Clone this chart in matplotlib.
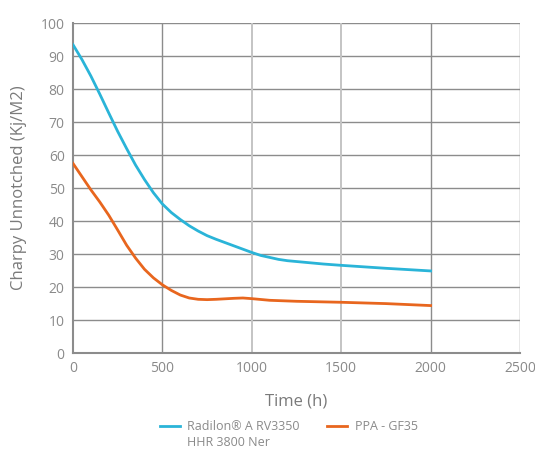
import matplotlib
matplotlib.use("Agg")
import matplotlib.pyplot as plt

# values
hours_blue = [0, 50, 100, 150, 200, 250, 300, 350, 400, 450, 500, 550, 600, 650, 700, 750,
              800, 900, 1000, 1050, 1100, 1150, 1200, 1300, 1400, 1500, 1750, 2000]
charpy_blue = [93.5, 89, 84, 78.5, 72.8, 67.2, 62, 57, 52.6, 48.6, 45.2, 42.6, 40.5, 38.6, 37, 35.6,
               34.5, 32.5, 30.5, 29.6, 29, 28.4, 28, 27.5, 27, 26.6, 25.7, 24.9]

hours_orange = [0, 50, 100, 150, 200, 250, 300, 350, 400, 450, 500, 550, 600, 650, 700, 750,
                800, 900, 950, 1000, 1100, 1250, 1500, 1750, 2000]
charpy_orange = [57.5, 53.5, 49.5, 45.8, 41.8, 37.3, 32.7, 28.8, 25.4, 22.8, 20.7, 19, 17.6, 16.7, 16.3, 16.2,
                 16.3, 16.6, 16.7, 16.5, 16, 15.7, 15.4, 15, 14.4]

x_ticks = [0, 500, 1000, 1500, 2000, 2500]
y_ticks = [0, 10, 20, 30, 40, 50, 60, 70, 80, 90, 100]

blue_name = "Radilon® A RV3350"
blue_name_2 = "HHR 3800 Ner"
orange_name = "PPA - GF35"

plt.rcParams['font.family'] = ['Open Sans', 'DejaVu Sans']
text_grey = "#8a8a8a"

fig = plt.figure(figsize=(5.35, 4.55), dpi=100)
ax = fig.add_axes([0.1364, 0.224, 0.8356, 0.725])

# grid lines
for y in y_ticks[1:]:
    ax.axhline(y, color="#8c8c8c", lw=1.0, zorder=1)
for x in x_ticks[1:]:
    col = "#c4c4c4" if x in (1000, 1500) else "#8c8c8c"
    ax.axvline(x, color=col, lw=1.4 if col == "#c4c4c4" else 1.0, zorder=1)

ax.plot(hours_blue, charpy_blue, color="#2ab4d8", lw=2, zorder=3,
        label=blue_name, solid_joinstyle="round")
ax.plot(hours_orange, charpy_orange, color="#e8661e", lw=2, zorder=3,
        label=orange_name, solid_joinstyle="round")

ax.set_xlim(0, 2500)
ax.set_ylim(0, 100)
ax.set_xticks(x_ticks)
ax.set_yticks(y_ticks)
ax.tick_params(length=0, labelsize=10, colors=text_grey, pad=6)

for s in ["top", "right"]:
    ax.spines[s].set_visible(False)
for s in ["left", "bottom"]:
    ax.spines[s].set_color("#8c8c8c")
    ax.spines[s].set_linewidth(1.5)

ax.set_xlabel("Time (h)", fontsize=12, color="#7a7a7a", labelpad=12)
ax.set_ylabel("Charpy Unnotched (Kj/M2)", fontsize=12, color="#7a7a7a", labelpad=10)

leg = fig.legend(loc="upper center", bbox_to_anchor=(0.54, 0.088), ncol=2,
                 frameon=False, fontsize=9, handlelength=1.6, columnspacing=2.2,
                 handletextpad=0.6, borderaxespad=0)
for t in leg.get_texts():
    t.set_color(text_grey)

# second line of the blue label, placed under the first legend text
fig.canvas.draw()
bb = leg.get_texts()[0].get_window_extent().transformed(fig.transFigure.inverted())
fig.text(bb.x0, bb.y0 - 0.006, blue_name_2, fontsize=9, color=text_grey,
         ha="left", va="top")

fig.savefig("out.png", dpi=100)
